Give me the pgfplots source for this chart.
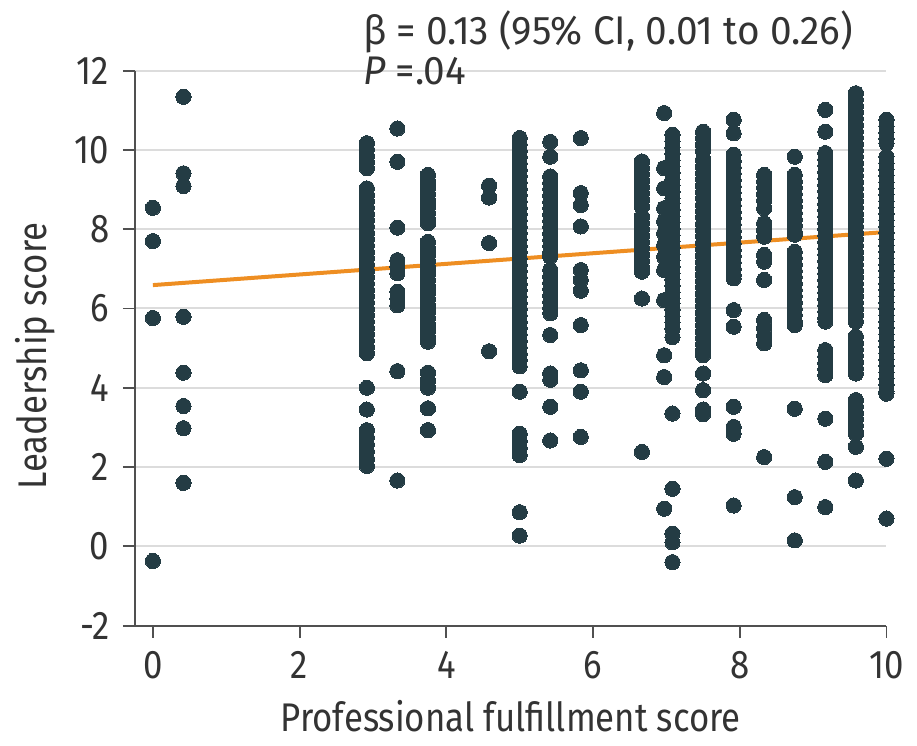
\documentclass[border=0pt]{standalone}
\usepackage{fontspec}
\setmainfont{Fira Sans}[FakeStretch=0.87]
\newfontfamily\annfont{Fira Sans}[FakeStretch=0.97]
\usepackage{pgfplots}
\usepackage{pgfplotstable}
\pgfplotsset{compat=1.18}
\definecolor{dotc}{HTML}{243C44}
\definecolor{linec}{HTML}{EE8E22}
\definecolor{gridc}{HTML}{DCDCDC}
\definecolor{axc}{HTML}{505050}
\definecolor{txtc}{HTML}{333333}

\pgfplotstableread{
x y
0 8.54
0 7.70
0 5.76
0 -0.37
0.417 11.34
0.417 9.41
0.417 9.09
0.417 5.79
0.417 4.38
0.417 3.54
0.417 2.98
0.417 1.60
2.917 10.17
2.917 10.01
2.917 9.85
2.917 9.70
2.917 9.54
2.917 9.03
2.917 8.87
2.917 8.71
2.917 8.55
2.917 8.39
2.917 8.23
2.917 8.07
2.917 7.91
2.917 7.75
2.917 7.59
2.917 7.43
2.917 7.27
2.917 7.11
2.917 6.95
2.917 6.79
2.917 6.63
2.917 6.47
2.917 6.31
2.917 6.15
2.917 5.99
2.917 5.83
2.917 5.67
2.917 5.51
2.917 5.35
2.917 5.19
2.917 5.03
2.917 4.87
2.917 4.00
2.917 3.45
2.917 2.93
2.917 2.75
2.917 2.57
2.917 2.39
2.917 2.21
2.917 2.03
3.333 10.54
3.333 9.70
3.333 8.04
3.333 7.22
3.333 7.05
3.333 6.89
3.333 6.42
3.333 6.25
3.333 6.08
3.333 4.42
3.333 1.66
3.75 9.37
3.75 9.21
3.75 9.05
3.75 8.89
3.75 8.73
3.75 8.57
3.75 8.41
3.75 8.25
3.75 8.15
3.75 7.68
3.75 7.52
3.75 7.36
3.75 7.20
3.75 7.04
3.75 6.88
3.75 6.72
3.75 6.56
3.75 6.40
3.75 6.24
3.75 6.08
3.75 5.92
3.75 5.76
3.75 5.60
3.75 5.44
3.75 5.28
3.75 5.16
3.75 4.38
3.75 4.18
3.75 4.00
3.75 3.48
3.75 2.93
4.583 9.10
4.583 8.80
4.583 7.65
4.583 4.92
5.0 10.30
5.0 10.14
5.0 9.98
5.0 9.82
5.0 9.66
5.0 9.50
5.0 9.34
5.0 9.18
5.0 9.02
5.0 8.86
5.0 8.70
5.0 8.54
5.0 8.38
5.0 8.22
5.0 8.06
5.0 7.90
5.0 7.74
5.0 7.58
5.0 7.42
5.0 7.26
5.0 7.10
5.0 6.94
5.0 6.78
5.0 6.62
5.0 6.46
5.0 6.30
5.0 6.14
5.0 5.98
5.0 5.82
5.0 5.66
5.0 5.50
5.0 5.34
5.0 5.18
5.0 5.02
5.0 4.86
5.0 4.70
5.0 4.54
5.0 3.90
5.0 2.84
5.0 2.66
5.0 2.48
5.0 2.30
5.0 0.86
5.0 0.27
5.417 10.20
5.417 9.83
5.417 9.33
5.417 9.17
5.417 9.01
5.417 8.85
5.417 8.69
5.417 8.53
5.417 8.37
5.417 8.21
5.417 8.05
5.417 7.89
5.417 7.73
5.417 7.57
5.417 7.41
5.417 7.31
5.417 6.97
5.417 6.81
5.417 6.65
5.417 6.49
5.417 6.33
5.417 6.17
5.417 6.01
5.417 5.88
5.417 5.33
5.417 4.36
5.417 4.20
5.417 3.52
5.417 2.67
5.833 10.30
5.833 8.91
5.833 8.61
5.833 8.07
5.833 6.97
5.833 6.72
5.833 6.45
5.833 5.58
5.833 4.44
5.833 3.90
5.833 2.76
6.667 9.71
6.667 9.55
6.667 9.39
6.667 9.23
6.667 9.07
6.667 8.91
6.667 8.75
6.667 8.57
6.667 8.32
6.667 8.16
6.667 8.00
6.667 7.84
6.667 7.68
6.667 7.52
6.667 7.36
6.667 7.20
6.667 7.04
6.667 6.93
6.667 6.25
6.667 2.38
6.97 10.93
6.97 9.54
6.97 9.03
6.97 8.53
6.97 8.20
6.97 7.90
6.97 7.60
6.97 7.30
6.97 6.97
6.97 6.21
6.97 4.82
6.97 4.27
6.97 0.95
7.083 10.38
7.083 10.22
7.083 10.06
7.083 9.90
7.083 9.74
7.083 9.58
7.083 9.42
7.083 9.26
7.083 9.10
7.083 8.94
7.083 8.78
7.083 8.65
7.083 8.49
7.083 8.33
7.083 8.17
7.083 8.01
7.083 7.85
7.083 7.69
7.083 7.53
7.083 7.37
7.083 7.21
7.083 7.05
7.083 6.89
7.083 6.73
7.083 6.57
7.083 6.41
7.083 6.25
7.083 6.13
7.083 5.97
7.083 5.81
7.083 5.65
7.083 5.49
7.083 5.28
7.083 3.35
7.083 1.45
7.083 0.32
7.083 0.10
7.083 -0.40
7.5 10.46
7.5 10.30
7.5 10.14
7.5 9.98
7.5 9.75
7.5 9.58
7.5 9.42
7.5 9.26
7.5 9.10
7.5 8.94
7.5 8.78
7.5 8.62
7.5 8.46
7.5 8.30
7.5 8.14
7.5 7.98
7.5 7.82
7.5 7.66
7.5 7.50
7.5 7.34
7.5 7.18
7.5 7.02
7.5 6.86
7.5 6.70
7.5 6.54
7.5 6.38
7.5 6.22
7.5 6.06
7.5 5.90
7.5 5.74
7.5 5.58
7.5 5.42
7.5 5.26
7.5 5.10
7.5 4.94
7.5 4.82
7.5 4.36
7.5 3.94
7.5 3.45
7.5 3.33
7.917 10.76
7.917 10.42
7.917 9.88
7.917 9.72
7.917 9.56
7.917 9.40
7.917 9.24
7.917 9.08
7.917 8.92
7.917 8.76
7.917 8.60
7.917 8.44
7.917 8.28
7.917 8.12
7.917 7.96
7.917 7.80
7.917 7.64
7.917 7.48
7.917 7.32
7.917 7.16
7.917 7.00
7.917 6.84
7.917 6.76
7.917 5.96
7.917 5.54
7.917 3.52
7.917 3.01
7.917 2.84
7.917 1.03
8.333 9.37
8.333 9.21
8.333 9.05
8.333 8.89
8.333 8.73
8.333 8.53
8.333 8.15
8.333 7.98
8.333 7.81
8.333 7.35
8.333 7.18
8.333 6.72
8.333 5.71
8.333 5.51
8.333 5.31
8.333 5.12
8.333 2.25
8.75 9.83
8.75 9.37
8.75 9.21
8.75 9.05
8.75 8.89
8.75 8.73
8.75 8.57
8.75 8.41
8.75 8.25
8.75 8.09
8.75 7.93
8.75 7.86
8.75 7.43
8.75 7.27
8.75 7.11
8.75 6.95
8.75 6.79
8.75 6.63
8.75 6.47
8.75 6.31
8.75 6.15
8.75 5.99
8.75 5.83
8.75 5.67
8.75 5.58
8.75 3.47
8.75 1.24
8.75 0.15
9.167 11.01
9.167 10.46
9.167 9.92
9.167 9.76
9.167 9.60
9.167 9.44
9.167 9.28
9.167 9.12
9.167 8.96
9.167 8.80
9.167 8.64
9.167 8.48
9.167 8.32
9.167 8.16
9.167 8.00
9.167 7.84
9.167 7.68
9.167 7.52
9.167 7.36
9.167 7.20
9.167 7.04
9.167 6.88
9.167 6.72
9.167 6.56
9.167 6.40
9.167 6.24
9.167 6.08
9.167 5.92
9.167 5.76
9.167 5.67
9.167 4.95
9.167 4.79
9.167 4.63
9.167 4.47
9.167 4.32
9.167 3.22
9.167 2.13
9.167 0.99
9.583 11.43
9.583 11.27
9.583 11.11
9.583 10.95
9.583 10.79
9.583 10.63
9.583 10.47
9.583 10.31
9.583 10.15
9.583 9.99
9.583 9.83
9.583 9.67
9.583 9.51
9.583 9.35
9.583 9.19
9.583 9.03
9.583 8.87
9.583 8.71
9.583 8.55
9.583 8.39
9.583 8.23
9.583 8.07
9.583 7.91
9.583 7.75
9.583 7.59
9.583 7.43
9.583 7.27
9.583 7.11
9.583 6.95
9.583 6.79
9.583 6.63
9.583 6.47
9.583 6.31
9.583 6.15
9.583 5.99
9.583 5.83
9.583 5.67
9.583 5.29
9.583 5.13
9.583 4.97
9.583 4.81
9.583 4.65
9.583 4.49
9.583 4.36
9.583 3.69
9.583 3.53
9.583 3.37
9.583 3.21
9.583 3.05
9.583 2.89
9.583 2.84
9.583 2.51
9.583 1.66
10 10.76
10 10.60
10 10.44
10 10.28
10 10.17
10 9.83
10 9.67
10 9.51
10 9.35
10 9.19
10 9.03
10 8.87
10 8.71
10 8.55
10 8.39
10 8.23
10 8.07
10 7.91
10 7.75
10 7.59
10 7.43
10 7.27
10 7.11
10 6.95
10 6.79
10 6.63
10 6.47
10 6.31
10 6.15
10 5.99
10 5.83
10 5.67
10 5.51
10 5.35
10 5.19
10 5.03
10 4.87
10 4.71
10 4.55
10 4.39
10 4.23
10 4.07
10 3.91
10 3.85
10 2.21
10 0.70
}\scores

\pgfplotstableread{
x y
0 6.59
10 7.93
}\fitline

\begin{document}
\fontsize{20}{24}\selectfont
\begin{tikzpicture}
\begin{axis}[
  scale only axis, width=376pt, height=277.65pt,
  xmin=-0.245, xmax=10, ymin=-2, ymax=12,
  axis lines=left, axis line style={-, draw=axc, line width=1pt},
  xtick={0,2,4,6,8,10}, xticklabels={0,2,4,6,8,10},
  ytick={-2,0,2,4,6,8,10,12}, yticklabels={-2,0,2,4,6,8,10,12},
  tick align=outside, major tick length=6pt,
  tick style={draw=axc, line width=0.9pt},
  ymajorgrids, grid style={draw=gridc, line width=1pt},
  tick label style={font=\fontsize{20}{24}\selectfont, text=txtc},
  xlabel={Professional fulfillment score}, ylabel={Leadership score},
  label style={font=\fontsize{20}{24}\selectfont, text=txtc},
  xlabel style={at={(axis description cs:0.5,0)}, anchor=base, yshift=-53pt},
  ylabel style={at={(axis description cs:-0.117,0.486)}, anchor=base, rotate=0},
  clip=false,
]
\addplot[only marks, color=dotc, mark=*, mark size=3.8pt, mark options={fill=dotc, draw=dotc, line width=0pt}] table[x=x, y=y] {\scores};
\addplot[linec, line width=2pt] table[x=x, y=y] {\fitline};
\node[anchor=base west, inner sep=0pt, text=txtc, font=\annfont] at (axis cs:2.86,12.65) {β = 0.13 (95\% CI, 0.01 to 0.26)};
\node[anchor=base west, inner sep=0pt, text=txtc, font=\annfont] at (axis cs:2.86,11.66) {\textit{P} =.04};
\end{axis}
\path ([xshift=-67.5pt,yshift=-57.5pt]current axis.south west) rectangle ([xshift=15pt,yshift=35.35pt]current axis.north east);
\end{tikzpicture}
\end{document}
